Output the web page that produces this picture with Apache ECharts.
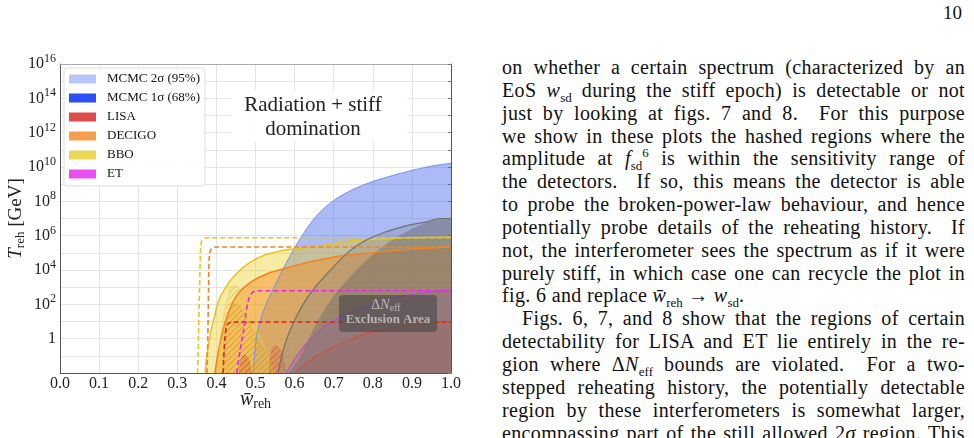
<!DOCTYPE html>
<html>
<head>
<meta charset="utf-8">
<script src="https://cdn.jsdelivr.net/npm/echarts@6/dist/echarts.min.js"></script>
<style>
body{margin:0;background:#fff;width:974px;height:438px;overflow:hidden;position:relative;font-family:"Liberation Serif",serif;color:#111}
#chart{position:absolute;left:0;top:0;width:480px;height:438px}
#page{position:absolute;right:12px;top:2px;font-size:19px}
#text{position:absolute;left:502px;top:56px;width:463px;font-size:20px;letter-spacing:0.35px;line-height:22.85px}
#text div{text-align:justify;text-align-last:justify;white-space:nowrap;height:22.85px}
#text div.end{text-align-last:left}
#text div.ind{text-indent:20px}
#text sub,#text sup{font-size:13px;line-height:0;letter-spacing:0}
</style>
</head>
<body>
<div id="chart"></div>
<div id="page">10</div>
<div id="text">
<div>on whether a certain spectrum (characterized by an</div>
<div>EoS <i>w</i><sub>sd</sub> during the stiff epoch) is detectable or not</div>
<div>just by looking at figs. 7 and 8.&nbsp; For this purpose</div>
<div>we show in these plots the hashed regions where the</div>
<div>amplitude at <i>f</i><sub>sd</sub><sup>6</sup> is within the sensitivity range of</div>
<div>the detectors.&nbsp; If so, this means the detector is able</div>
<div>to probe the broken-power-law behaviour, and hence</div>
<div>potentially probe details of the reheating history.&nbsp; If</div>
<div>not, the interferometer sees the spectrum as if it were</div>
<div>purely stiff, in which case one can recycle the plot in</div>
<div class="end">fig. 6 and replace <i>w&#772;</i><sub>reh</sub> → <i>w</i><sub>sd</sub>.</div>
<div class="ind">Figs. 6, 7, and 8 show that the regions of certain</div>
<div>detectability for LISA and ET lie entirely in the re-</div>
<div>gion where Δ<i>N</i><sub>eff</sub> bounds are violated.&nbsp; For a two-</div>
<div>stepped reheating history, the potentially detectable</div>
<div>region by these interferometers is somewhat larger,</div>
<div>encompassing part of the still allowed 2<i>σ</i> region. This</div>
</div>
<script>
// x = mean EoS during reheating, y = log10(T_reh / GeV)
const yLabelExp = [0, 2, 4, 6, 8, 10, 12, 14, 16];
const legendNames = ['MCMC 2σ (95%)', 'MCMC 1σ (68%)', 'LISA', 'DECIGO', 'BBO', 'ET'];
const legendColors = ['#bac6fa', '#2c4ff5', '#dd4b4b', '#f6a04f', '#ecd655', '#e84ef0'];

const mcmc2sigma = [[0.494,-2],[0.503,0.2],[0.52,1.6],[0.55,3.1],[0.588,4.8],[0.625,6.2],[0.66,7.25],[0.70,8.05],[0.75,8.7],[0.80,9.15],[0.85,9.5],[0.90,9.8],[0.95,10.05],[1.0,10.22]];
const bboSolid = [[0.371,-2],[0.375,-1.1],[0.384,0.2],[0.392,1.0],[0.405,2.15],[0.422,2.93],[0.448,3.71],[0.482,4.39],[0.524,4.87],[0.575,5.17],[0.627,5.3],[0.678,5.45],[0.72,5.62],[0.76,5.75],[0.83,5.8],[0.88,5.88],[1.0,5.92]];
const decigoSolid = [[0.396,-2],[0.405,-0.76],[0.418,0.6],[0.435,1.77],[0.456,2.64],[0.49,3.32],[0.533,3.81],[0.584,4.14],[0.635,4.45],[0.678,4.65],[0.716,4.82],[0.784,4.97],[0.87,5.17],[1.0,5.36]];
const etSolid = [[0.578,-2],[0.6,-1.2],[0.63,-0.3],[0.67,0.6],[0.72,1.3],[0.78,1.85],[0.85,2.35],[0.92,2.65],[1.0,2.85]];
const lisaSolid = [[0.6,-2],[0.62,-1.6],[0.66,-0.95],[0.70,-0.47],[0.78,0.28],[0.87,0.7],[1.0,0.99]];

const bboDashed = [[0.352,-2],[0.354,0],[0.357,3],[0.36,5.4],[0.363,5.72],[0.37,5.85],[0.38,5.88],[1.0,5.88]];
const decigoDashed = [[0.376,-2],[0.378,0],[0.38,3],[0.382,4.9],[0.386,5.2],[0.393,5.32],[0.401,5.34],[1.0,5.34]];
const lisaDashed = [[0.417,-2],[0.419,-1],[0.422,0],[0.425,0.6],[0.43,0.88],[0.44,0.97],[1.0,0.97]];
const etDashed = [[0.452,-2],[0.46,-0.76],[0.469,0.41],[0.475,1.38],[0.482,2.25],[0.49,2.64],[0.503,2.79],[1.0,2.79]];

const bboHatch = [[0.405,-2],[0.41,0],[0.42,1.5],[0.43,2.5],[0.443,3.15],[0.455,3.0],[0.47,2.3],[0.49,1.3],[0.51,0.3],[0.53,-0.8],[0.545,-2]];
const decigoHatch = [[0.415,-2],[0.42,0],[0.43,1.4],[0.445,2.0],[0.46,1.9],[0.48,1.1],[0.5,0.2],[0.52,-0.6],[0.55,-1.4],[0.57,-2]];
const lisaHatchA = [[0.458,-2],[0.462,-1.3],[0.472,-0.95],[0.483,-1.2],[0.49,-2]];
const lisaHatchB = [[0.535,-2],[0.54,-0.9],[0.55,-0.4],[0.565,-0.7],[0.578,-2]];

const exclusionEdge = [[0.558,-2],[0.565,-1.2],[0.58,0.0],[0.605,1.3],[0.63,2.3],[0.66,3.2],[0.70,4.2],[0.74,5.1],[0.78,5.7],[0.83,6.2],[0.89,6.6],[0.94,6.82],[0.97,7.0],[1.0,7.0]];
const exclusionCore = [[0.585,-2],[0.614,-1.05],[0.656,0.9],[0.699,2.45],[0.742,3.6],[0.784,4.58],[0.836,5.55],[0.895,6.33],[0.955,6.9],[1.0,7.0]];

const serif = '"Liberation Serif", serif';

function hatch(line, bg) {
  const c = document.createElement('canvas');
  c.width = 6; c.height = 6;
  const g = c.getContext('2d');
  g.fillStyle = bg;
  g.fillRect(0, 0, 6, 6);
  g.strokeStyle = line;
  g.lineWidth = 0.8;
  g.beginPath();
  g.moveTo(0, 6); g.lineTo(6, 0);
  g.moveTo(-1, 1); g.lineTo(1, -1);
  g.moveTo(5, 7); g.lineTo(7, 5);
  g.stroke();
  return c;
}

function region(name, data, line, fill, width) {
  return {
    name: name, type: 'line', data: data, smooth: 0.3, symbol: 'none', silent: true,
    lineStyle: {color: line, width: width},
    itemStyle: {color: line},
    areaStyle: {color: fill, origin: 'start', opacity: 1}
  };
}

function dashed(name, data, color) {
  return {
    name: name, type: 'line', data: data, smooth: 0.3, symbol: 'none', silent: true,
    lineStyle: {color: color, width: 1.6, type: [5, 3]},
    itemStyle: {color: color}
  };
}

const chart = echarts.init(document.getElementById('chart'));

const option = {
  animation: false,
  grid: {left: 60, top: 64, width: 391, height: 309, outerBoundsMode: 'none'},
  legend: {
    data: legendNames.map((n, i) => ({name: n, itemStyle: {color: legendColors[i], borderWidth: 0}})),
    icon: 'rect', orient: 'vertical', left: 64, top: 68, selectedMode: false,
    itemWidth: 27, itemHeight: 9, itemGap: 5,
    padding: [4, 5, 5, 5],
    backgroundColor: 'rgba(255,255,255,0.9)', borderColor: '#ddd', borderWidth: 1, borderRadius: 3,
    textStyle: {fontFamily: serif, fontSize: 13, color: '#111', lineHeight: 14, padding: [0, 0, 0, 6]}
  },
  xAxis: [{
    type: 'value', min: 0, max: 1, interval: 0.1,
    name: '{w|w\u0304}{s|reh}', nameLocation: 'middle', nameGap: 16, nameMoveOverlap: false,
    nameTextStyle: {
      rich: {
        w: {fontFamily: serif, fontStyle: 'italic', fontSize: 20, color: '#222', lineHeight: 22},
        s: {fontFamily: serif, fontSize: 14, color: '#222', lineHeight: 12, verticalAlign: 'bottom'}
      }
    },
    axisLine: {onZero: false, lineStyle: {color: '#555'}},
    axisTick: {show: false},
    axisLabel: {fontFamily: serif, fontSize: 16, color: '#222', margin: 3, formatter: v => v.toFixed(1)},
    splitLine: {lineStyle: {color: '#e4e4e4'}}
  }, {
    type: 'value', position: 'top', min: 0, max: 1,
    axisLine: {show: true, onZero: false, lineStyle: {color: '#aaa'}},
    axisTick: {show: false}, axisLabel: {show: false}, splitLine: {show: false}
  }],
  yAxis: [{
    type: 'value', min: -2, max: 16, interval: 1,
    name: '{t|T}{s|reh}{g| [GeV]}', nameLocation: 'middle', nameGap: 33, nameRotate: 90, nameMoveOverlap: false,
    nameTextStyle: {
      rich: {
        t: {fontFamily: serif, fontStyle: 'italic', fontSize: 19, color: '#222', lineHeight: 22},
        s: {fontFamily: serif, fontSize: 13, color: '#222', lineHeight: 14, verticalAlign: 'bottom'},
        g: {fontFamily: serif, fontSize: 19, color: '#222', lineHeight: 22}
      }
    },
    axisLine: {show: true, onZero: false, lineStyle: {color: '#555'}},
    axisTick: {show: false},
    axisLabel: {
      margin: 4,
      formatter: v => yLabelExp.indexOf(v) < 0 ? '' : (v === 0 ? '{b|1}' : '{b|10}{sup|' + v + '}'),
      rich: {
        b: {fontFamily: serif, fontSize: 16, color: '#222', lineHeight: 22},
        sup: {fontFamily: serif, fontSize: 12, color: '#222', lineHeight: 10, verticalAlign: 'top'}
      }
    },
    splitLine: {lineStyle: {color: '#e4e4e4'}}
  }, {
    type: 'value', position: 'right', min: -2, max: 16, interval: 1,
    axisLine: {show: true, onZero: false, lineStyle: {color: '#555'}},
    axisTick: {show: true, inside: true, length: 3, lineStyle: {color: '#777'}},
    axisLabel: {show: false}, splitLine: {show: false}
  }],
  series: [
    region('MCMC 2σ (95%)', mcmc2sigma, '#7090f0', 'rgba(70,101,236,0.45)', 1),
    region('BBO', bboSolid, '#e9c31b', 'rgba(235,205,30,0.4)', 1.5),
    region('DECIGO', decigoSolid, '#f5821f', 'rgba(245,140,30,0.45)', 1.5),
    region('BBO hatch', bboHatch, 'rgba(230,200,50,0.6)', {image: hatch('rgba(225,190,30,0.9)', 'rgba(240,220,80,0.25)'), repeat: 'repeat'}, 0.6),
    region('DECIGO hatch', decigoHatch, 'rgba(240,140,40,0.5)', {image: hatch('rgba(235,120,20,0.8)', 'rgba(245,150,40,0.15)'), repeat: 'repeat'}, 0.6),
    region('LISA hatch A', lisaHatchA, 'rgba(210,80,60,0.5)', {image: hatch('rgba(215,70,50,0.85)', 'rgba(200,70,60,0.3)'), repeat: 'repeat'}, 0.6),
    region('LISA hatch B', lisaHatchB, 'rgba(210,80,60,0.5)', {image: hatch('rgba(215,70,50,0.85)', 'rgba(220,80,70,0.25)'), repeat: 'repeat'}, 0.6),
    region('ET', etSolid, '#b050d0', 'rgba(190,70,220,0.28)', 1.2),
    region('LISA', lisaSolid, '#c85540', 'rgba(215,75,55,0.28)', 1.2),
    dashed('BBO limit', bboDashed, '#e8c51a'),
    dashed('DECIGO limit', decigoDashed, '#f5822a'),
    dashed('LISA limit', lisaDashed, '#d42a1a'),
    dashed('ET limit', etDashed, '#ee22ee'),
    region('Exclusion core', exclusionCore, 'rgba(0,0,0,0)', 'rgba(85,85,90,0.4)', 0),
    region('Exclusion', exclusionEdge, '#707070', 'rgba(130,130,135,0.3)', 1.2),
    {name: 'MCMC 1σ (68%)', type: 'line', data: [], itemStyle: {color: '#2c4ff5'}}
  ],
  graphic: [
    {type: 'rect', z: 10, shape: {x: 232, y: 90, width: 175, height: 52, r: 3}, style: {fill: 'rgba(255,255,255,0.92)'}},
    {type: 'text', z: 11, x: 313, y: 105, style: {text: 'Radiation + stiff', font: '21px "Liberation Serif"', fill: '#222', align: 'center', verticalAlign: 'middle'}},
    {type: 'text', z: 11, x: 313, y: 129, style: {text: 'domination', font: '21px "Liberation Serif"', fill: '#222', align: 'center', verticalAlign: 'middle'}},
    {type: 'rect', z: 10, shape: {x: 339, y: 295, width: 98, height: 37, r: 4}, style: {fill: 'rgba(70,70,72,0.6)'}},
    {type: 'text', z: 11, x: 386, y: 305, style: {
      text: '{d|Δ}{n|N}{s|eff}', align: 'center', verticalAlign: 'middle',
      rich: {
        d: {font: '14px "Liberation Serif"', fill: '#b8b8b8', lineHeight: 16},
        n: {font: 'italic 14px "Liberation Serif"', fill: '#b8b8b8', lineHeight: 16},
        s: {font: '10px "Liberation Serif"', fill: '#b8b8b8', lineHeight: 10, verticalAlign: 'bottom'}
      }
    }},
    {type: 'text', z: 11, x: 388, y: 320, style: {text: 'Exclusion Area', font: 'bold 13px "Liberation Serif"', fill: '#b8b8b8', align: 'center', verticalAlign: 'middle'}}
  ]
};

chart.setOption(option);
</script>
</body>
</html>
